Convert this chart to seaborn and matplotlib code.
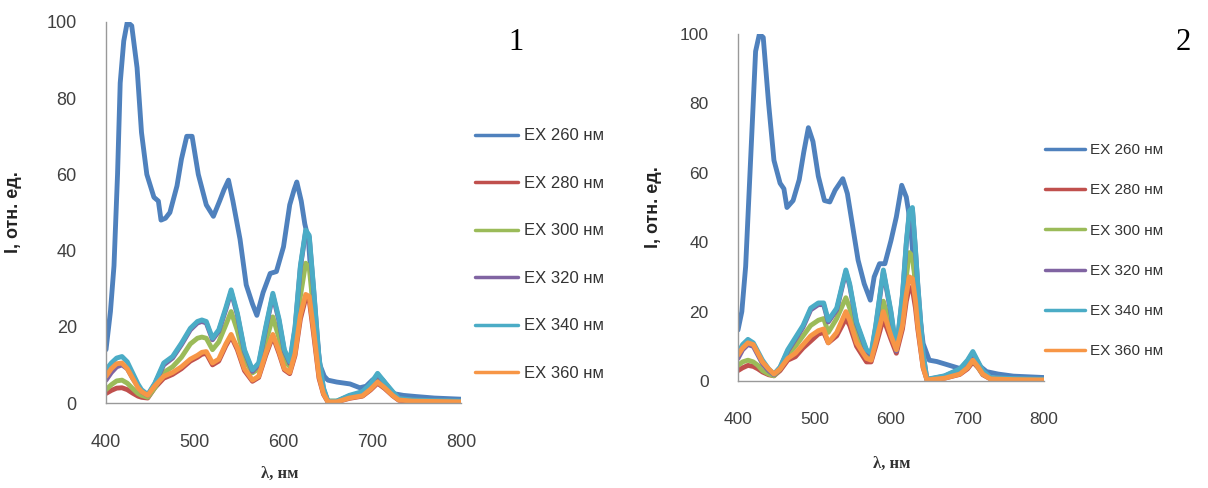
import numpy as np
import pandas as pd
import matplotlib
matplotlib.use("Agg")
import matplotlib.pyplot as plt
import seaborn as sns

# ---------------- data ----------------
series_names = ["EX 260 нм", "EX 280 нм", "EX 300 нм", "EX 320 нм", "EX 340 нм", "EX 360 нм"]
colors = ["#4F81BD", "#C0504D", "#9BBB59", "#8064A2", "#4BACC6", "#F79646"]

# Panel 1
p1_wl_260 = [400, 405, 409, 413, 416, 420, 424, 429, 435, 440, 446, 454, 459, 462, 467, 472, 480, 485, 491,
             497, 504, 513, 521, 528, 533, 538, 543, 551, 558, 565, 570, 577, 585, 592, 600, 607, 612, 615,
             620, 624, 628, 633, 641, 646, 650, 660, 675, 686, 693, 700, 706, 712, 723, 735, 749, 770, 800]
p1_260 = [14, 24, 36, 60, 84, 95, 100, 99, 88, 71, 60, 54, 53, 48, 48.5, 50, 57, 64, 70,
          70, 60, 52, 49, 53, 56, 58.5, 53, 43, 31, 26, 23, 29, 34, 34.5, 41, 52, 56, 58,
          53, 47, 43, 27, 10, 7, 6, 5.5, 5, 4, 4.4, 6, 7, 6, 2.5, 2, 1.7, 1.3, 1]

p1_wl = [400, 406, 412, 418, 424, 430, 436, 440, 447, 455, 465, 475, 485, 495, 503, 508, 513, 520, 527, 535,
         541, 548, 556, 565, 572, 580, 588, 595, 601, 607, 613, 619, 625, 629, 634, 640, 645, 650, 660, 674,
         689, 698, 706, 714, 723, 730, 745, 770, 800]
p1_280 = [2.5, 3.3, 3.9, 4, 3.5, 2.6, 1.8, 1.5, 1.3, 4, 6.5, 7.5, 9, 11, 12, 12.8, 13, 10, 11, 15,
          17.5, 14, 8.5, 5.7, 6.7, 12.5, 17.5, 13, 8.7, 7.7, 12.5, 22, 27.5, 27, 18, 6.5, 2.3, 0.3, 0.3, 1.2,
          1.8, 3.4, 5.2, 3.8, 1.9, 0.7, 0.5, 0.4, 0.3]
p1_300 = [3.5, 4.8, 5.8, 6, 5.2, 3.8, 2.5, 2, 1.5, 4, 8, 9.5, 12, 15.5, 17, 17.3, 17, 14, 16, 20.5,
          24, 19, 11.5, 7.9, 9, 16, 22.6, 17, 11, 9.6, 16, 28, 36.7, 35.5, 24, 9, 3, 0.5, 0.5, 1.8,
          2.5, 4.2, 6.3, 4.5, 2.5, 1, 0.7, 0.5, 0.4]
p1_320 = [6, 8, 9.5, 10, 9, 6.5, 4.5, 3, 2, 5, 10, 11.8, 15.3, 19.2, 21, 21.4, 21, 16.6, 18.8, 24.5,
          29.2, 23.2, 13.6, 8.3, 10, 19.5, 28.3, 21.5, 13.6, 10.4, 19.5, 35.5, 45, 43.5, 29.5, 11.5, 3.7, 0.4, 0.4, 1.8,
          2.8, 4.7, 7.4, 5.2, 2.8, 1.1, 0.7, 0.5, 0.4]
p1_340 = [8.7, 10.5, 11.8, 12.2, 10.8, 7.9, 5, 3.5, 2.2, 5.2, 10.5, 12.2, 15.7, 19.6, 21.4, 21.8, 21.4, 17, 19.2, 25,
          29.7, 23.6, 14, 8.7, 10.5, 20, 28.8, 22, 14, 10.8, 20, 36, 45.4, 44, 30, 12, 4, 0.5, 0.5, 2,
          3, 5, 7.8, 5.5, 3, 1.2, 0.8, 0.6, 0.5]
p1_360 = [7, 9, 10.3, 10.5, 9, 6.5, 4, 3, 2, 4.5, 7, 8, 9.5, 11.5, 12.5, 13.3, 13.5, 10.5, 11.5, 15.5,
          18, 14.5, 9, 6, 7, 13, 18, 13.5, 9, 8, 13, 23, 28.5, 28, 19, 7, 2.5, 0.3, 0.3, 1.3,
          1.9, 3.6, 5.5, 4, 2, 0.8, 0.5, 0.4, 0.3]

# Panel 2
p2_wl_260 = [400, 405, 410, 414, 418, 423, 428, 433, 440, 447, 455, 460, 464, 472, 480, 486, 492, 498, 505,
             513, 520, 527, 537, 543, 550, 557, 565, 573, 578, 585, 592, 600, 607, 614, 620, 625, 630, 635,
             642, 650, 660, 675, 690, 700, 708, 715, 725, 740, 760, 800]
p2_260 = [14.7, 20, 33, 52, 71, 95, 100, 99, 80, 63.6, 57, 55.4, 50, 52, 58, 66, 73, 69, 59,
          52, 51.6, 55, 58.3, 54, 44.4, 34.8, 28, 23.3, 30, 33.8, 33.8, 40.5, 47.3, 56.4, 53, 46, 33, 23,
          10.8, 6, 5.6, 4.6, 3.6, 5, 7.5, 4.5, 2.7, 2, 1.4, 1]

p2_wl = [400, 406, 413, 420, 426, 432, 440, 447, 455, 465, 475, 485, 495, 505, 512, 518, 529, 541, 546, 555,
         568, 574, 580, 590, 600, 607, 615, 620, 624, 628, 632, 635, 642, 647, 670, 690, 700, 707, 714, 720,
         730, 760, 800]
p2_280 = [3, 3.8, 4.5, 4.2, 3.5, 2.6, 1.8, 1.5, 3, 6, 7, 9.5, 11.5, 13.5, 14, 11, 13, 18, 16, 10,
          5.5, 5.5, 10, 18, 12, 8, 15, 23, 27, 26.5, 21, 15, 3.8, 0.3, 0.8, 1.9, 3.5, 5.5, 3.8, 1.8,
          0.6, 0.4, 0.3]
p2_300 = [4.5, 5.5, 6, 5.5, 4.5, 3, 2, 1.5, 3.5, 7.5, 10, 13, 16, 17.5, 18, 14, 18, 24, 21, 13,
          8, 7, 13, 23, 15, 10, 19, 30, 37, 36, 28, 20, 5, 0.5, 1, 2.5, 4, 6, 4, 2,
          0.8, 0.5, 0.4]
p2_320 = [6.5, 9, 10.5, 10, 7.5, 5, 3, 1.8, 3.8, 8.6, 12, 15.5, 20.5, 22, 22, 17, 20.5, 31.5, 27.5, 16.5,
          8.6, 7.6, 15.5, 31.5, 19.5, 8.6, 24.5, 39.5, 48.5, 49.5, 37.5, 27.5, 7.6, 0.4, 1.4, 3.3, 5.7, 8.1, 5.2, 2.8,
          0.9, 0.6, 0.4]
p2_340 = [8, 10.5, 12, 11, 8.5, 6, 3.5, 2, 4, 9, 12.5, 16, 21, 22.5, 22.5, 17.5, 21, 32, 28, 17,
          9, 8, 16, 32, 20, 9, 25, 40, 49, 50, 38, 28, 8, 0.5, 1.5, 3.5, 6, 8.5, 5.5, 3,
          1, 0.7, 0.5]
p2_360 = [7.5, 9.5, 11, 10.5, 8, 5.5, 3.5, 2, 3.5, 6.5, 8, 10.5, 13, 14.5, 15, 11, 14, 20, 17.5, 11,
          6.5, 6, 11, 20, 13, 9, 16, 25, 30, 29.5, 23, 16, 4, 0.3, 0.8, 2, 3.8, 6, 4, 2,
          0.6, 0.4, 0.3]

x_ticks = [400, 500, 600, 700, 800]
y_ticks = [0, 20, 40, 60, 80, 100]
y_label = "I, отн. ед."
x_label = "λ, нм"


def long_form(wl_first, first, wl_rest, rest):
    frames = [pd.DataFrame({"wl": wl_first, "I": first, "series": series_names[0]})]
    for name, vals in zip(series_names[1:], rest):
        frames.append(pd.DataFrame({"wl": wl_rest, "I": vals, "series": name}))
    return pd.concat(frames, ignore_index=True)


df1 = long_form(p1_wl_260, p1_260, p1_wl, [p1_280, p1_300, p1_320, p1_340, p1_360])
df2 = long_form(p2_wl_260, p2_260, p2_wl, [p2_280, p2_300, p2_320, p2_340, p2_360])

# ---------------- style ----------------
sns.set_theme(style="white")
plt.rcParams["font.family"] = ["Liberation Sans", "DejaVu Sans"]

W, H = 1208, 488
fig = plt.figure(figsize=(W / 100, H / 100), dpi=100)
fig.patch.set_facecolor("white")


def px_axes(left, right, top, bottom):
    return fig.add_axes([left / W, 1 - bottom / H, (right - left) / W, (bottom - top) / H])


ax1 = px_axes(106, 461, 22, 403)
ax2 = px_axes(738, 1044, 34, 381)

palette = dict(zip(series_names, colors))

configs = [
    (ax1, df1, 13, 12, (475, 137), 1.95, "1", (516, 50), (0.489, -0.165), (-0.236, 0.5)),
    (ax2, df2, 12.5, 11, (1045, 151), 1.72, "2", (1183, 50), (0.503, -0.215), (-0.25, 0.5)),
]

for ax, df, tfs, lfs, (lx, ly), lsp, tag, (tx, ty), xl_pos, yl_pos in configs:
    sns.lineplot(data=df, x="wl", y="I", hue="series", hue_order=series_names,
                 palette=palette, linewidth=3.5, ax=ax, sort=True, estimator=None)
    ax.set_xlim(400, 800)
    ax.set_ylim(0, 100)
    ax.set_xticks(x_ticks)
    ax.set_yticks(y_ticks)
    ax.set_xticklabels([str(v) for v in x_ticks])
    ax.set_yticklabels([str(v) for v in y_ticks])
    ax.tick_params(axis="both", length=0, labelsize=tfs, labelcolor="#404040")
    ax.tick_params(axis="x", pad=22)
    ax.tick_params(axis="y", pad=21)
    for s in ["top", "right"]:
        ax.spines[s].set_visible(False)
    for s in ["left", "bottom"]:
        ax.spines[s].set_color("#999999")
        ax.spines[s].set_linewidth(1.0)
    ax.set_xlabel(x_label, fontsize=12, fontweight="bold",
                  family=["Liberation Serif", "DejaVu Serif"], color="#333333")
    ax.xaxis.set_label_coords(*xl_pos)
    ax.set_ylabel(y_label, fontsize=13, fontweight="bold", color="#222222")
    ax.yaxis.set_label_coords(*yl_pos)
    ax.set_facecolor("white")

    handles, labels = ax.get_legend_handles_labels()
    leg = ax.legend(handles, labels, loc="upper left",
                    bbox_to_anchor=(lx / W, 1 - (ly - lfs * 0.72) / H),
                    bbox_transform=fig.transFigure, frameon=False, borderaxespad=0,
                    borderpad=0, fontsize=lfs, labelspacing=lsp, handlelength=2.6,
                    handletextpad=0.35, labelcolor="#333333")
    for h in leg.get_lines():
        h.set_linewidth(2.5)

    fig.text(tx / W, 1 - ty / H, tag, fontsize=22, family=["Liberation Serif", "DejaVu Serif"],
             ha="center", va="baseline", color="black")

fig.savefig("out.png", dpi=100, facecolor="white")
